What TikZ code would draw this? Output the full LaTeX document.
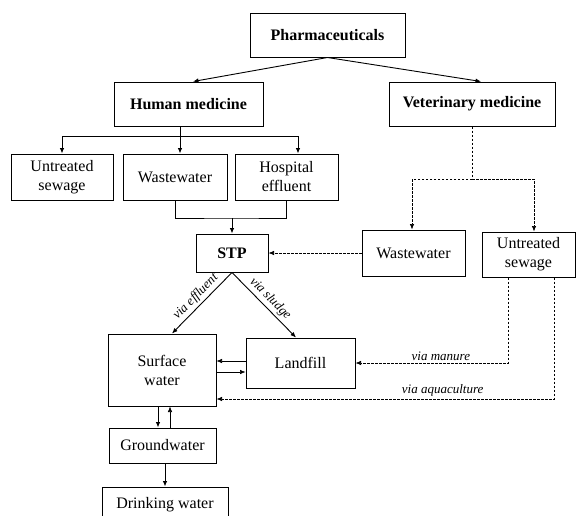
\documentclass[tikz,border=0pt]{standalone}
\usepackage{fontspec}
\setmainfont{Liberation Serif}
\usetikzlibrary{arrows.meta}

\begin{document}
\begin{tikzpicture}[x=1pt,y=-1pt,
	box/.style={draw, line width=1pt, inner sep=0pt, align=center, font=\fontsize{16}{19}\selectfont},
	head/.style={box, font=\fontsize{16}{19}\selectfont\bfseries},
	arr/.style={-{Latex[length=5.5pt,width=4.5pt]}, line width=0.9pt},
	vetline/.style={line width=0.7pt, dash pattern=on 2.5pt off 1.5pt},
	via/.style={font=\fontsize{13}{15}\selectfont\itshape, inner sep=2.5pt}]
	\def \toph{44pt}
	\def \rowh{46pt}
	\useasboundingbox (0,0) rectangle (576,515);
	% row 1
	\node[head, minimum width=155pt, minimum height=\toph] (pharma) at (327.5, 35) {Pharmaceuticals};
	% row 2
	\node[head, minimum width=149pt, minimum height=\toph] (human) at (188.5, 104) {Human medicine};
	\node[head, minimum width=166pt, minimum height=\toph] (vet) at (472, 104) {Veterinary medicine};
	\draw[arr] (pharma.south) -- ([xshift=4.5pt]human.north);
	\draw[arr] (pharma.south) -- ([xshift=9pt]vet.north);
	% row 3
	\node[box, minimum width=102pt, minimum height=\rowh] (untr) at (62, 177) {Untreated\\sewage};
	\node[box, minimum width=104pt, minimum height=\rowh] (ww) at (175, 177) {Wastewater};
	\node[box, minimum width=103pt, minimum height=\rowh] (hosp) at (286.5, 177) {Hospital\\effluent};
	\coordinate (hbus) at (180, 136);
	\draw[arr] ([xshift=-8.5pt]human.south) -- ([xshift=5pt]ww.north);
	\draw[arr] (hbus) -| (untr.north);
	\draw[arr] (hbus) -| ([xshift=11.5pt]hosp.north);
	% row 4
	\node[head, minimum width=72pt, minimum height=38pt] (stp) at (232, 253) {STP};
	\node[box, minimum width=103pt, minimum height=\rowh] (vww) at (413.5, 253) {Wastewater};
	\node[box, minimum width=93pt, minimum height=45pt] (vuntr) at (528.5, 254.5) {Untreated\\sewage};
	\coordinate (join) at (232, 218);
	\draw[line width=0.9pt] (ww.south) |- (join) -| (hosp.south);
	\draw[arr] (join) -- (stp.north);
	\coordinate (vbus) at (472, 179);
	\draw[vetline] (vet.south) -- (vbus);
	\foreach \n/\s in {vww/-1.5pt, vuntr/5.5pt}{\draw[vetline, arr, line width=0.7pt] (vbus) -| ([xshift=\s]\n.north);};
	\draw[vetline, arr, line width=0.7pt] (vww.west) -- (stp.east);
	% row 5
	\node[box, minimum width=108pt, minimum height=72pt] (sw) at (162, 370) {Surface\\water};
	\node[box, minimum width=109pt, minimum height=50pt] (lf) at (300.5, 363) {Landfill};
	\draw[arr] (stp.south) -- ([xshift=10pt]sw.north) node[via, midway, sloped, above] {via effluent};
	\draw[arr] (stp.south) -- ([xshift=-4.5pt]lf.north) node[via, midway, sloped, above] {via sludge};
	\draw[arr, line width=0.6pt] ([yshift=2pt]lf.west) -- ([yshift=2pt]lf.west -| sw.east);
	\draw[arr, line width=0.6pt] ([yshift=-9pt]lf.west -| sw.east) -- ([yshift=-9pt]lf.west);
	\draw[vetline, arr, line width=0.7pt] ([xshift=-20.5pt]vuntr.south) |- (lf.east) node[via, pos=0.72, above] {via manure};
	\draw[vetline, arr, line width=0.7pt] ([xshift=25.5pt]vuntr.south) |- ([yshift=-29pt]sw.east) node[via, pos=0.665, above] {via aquaculture};
	% row 6
	\node[box, minimum width=107pt, minimum height=35pt] (gw) at (162.5, 445.5) {Groundwater};
	\node[box, minimum width=126pt, minimum height=35pt] (dw) at (165, 504.5) {Drinking water};
	\draw[arr] ([xshift=-4pt]sw.south) -- ([xshift=-4pt]sw.south |- gw.north);
	\draw[arr, line width=0.6pt] ([xshift=8pt]sw.south |- gw.north) -- ([xshift=8pt]sw.south);
	\draw[arr] ([xshift=2.5pt]gw.south) -- ([xshift=2.5pt]gw.south |- dw.north);
\end{tikzpicture}
\end{document}
